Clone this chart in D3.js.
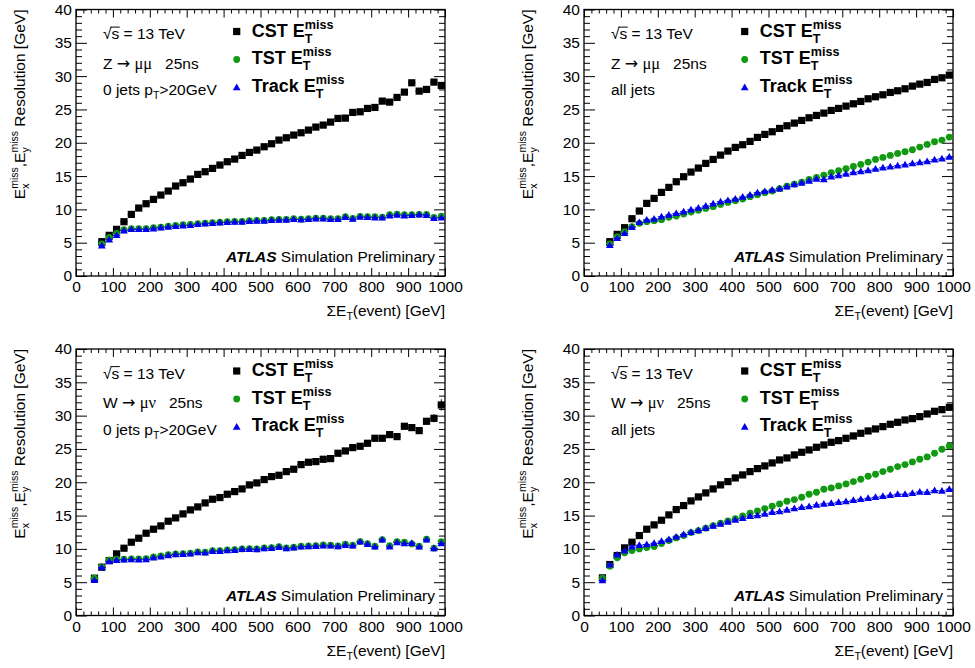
<!DOCTYPE html>
<html>
<head>
<meta charset="utf-8">
<script src="https://cdn.jsdelivr.net/npm/d3@7"></script>
<style>
  body { margin: 0; background: #fff; }
  text { font-family: "Liberation Sans", Arial, Helvetica, sans-serif; white-space: pre; fill: #000; }
</style>
</head>
<body>
<div id="chart"></div>
<script>
// bin centres, Z -> mumu (top row) and W -> munu (bottom row)
var binsZ = [70, 90, 110, 130, 150, 170, 190, 210, 230, 250, 270, 290, 310, 330, 350, 370, 390, 410, 430, 450,
  470, 490, 510, 530, 550, 570, 590, 610, 630, 650, 670, 690, 710, 730, 750, 770, 790, 810, 830, 850,
  870, 890, 910, 930, 950, 970, 990];
var binsW = [50, 70, 90, 110, 130, 150, 170, 190, 210, 230, 250, 270, 290, 310, 330, 350, 370, 390, 410, 430,
  450, 470, 490, 510, 530, 550, 570, 590, 610, 630, 650, 670, 690, 710, 730, 750, 770, 790, 810, 830,
  850, 870, 890, 910, 930, 950, 970, 990];

// Z -> mumu, 0 jets
var cstZ0 = [5.15, 6.1, 7.0, 8.15, 9.25, 10.2, 10.85, 11.5, 12.15, 12.75, 13.5, 14.0, 14.55, 15.25, 15.65, 16.15,
  16.65, 17.15, 17.55, 18.1, 18.55, 18.9, 19.4, 19.85, 20.4, 20.75, 21.15, 21.5, 21.9, 22.35, 22.65, 23.1,
  23.65, 23.7, 24.55, 24.65, 25.15, 25.3, 26.25, 26.1, 26.8, 27.6, 29.0, 27.75, 28.0, 29.1, 28.6];
var cstErrZ0 = [0.05, 0.05, 0.05, 0.05, 0.05, 0.05, 0.05, 0.05, 0.05, 0.05, 0.05, 0.05, 0.05, 0.05, 0.05, 0.05,
  0.05, 0.05, 0.05, 0.05, 0.05, 0.05, 0.1, 0.1, 0.1, 0.1, 0.1, 0.1, 0.1, 0.1, 0.1, 0.15,
  0.15, 0.15, 0.15, 0.15, 0.15, 0.2, 0.2, 0.2, 0.2, 0.25, 0.3, 0.3, 0.3, 0.4, 0.45];
var tstZ0 = [4.8, 5.8, 6.4, 6.95, 7.1, 7.1, 7.1, 7.25, 7.35, 7.5, 7.6, 7.7, 7.75, 7.85, 7.95, 8.0,
  8.1, 8.15, 8.2, 8.2, 8.3, 8.35, 8.35, 8.45, 8.5, 8.5, 8.6, 8.55, 8.6, 8.7, 8.7, 8.6,
  8.6, 8.9, 8.65, 8.95, 8.9, 8.9, 8.85, 9.2, 9.3, 9.2, 9.2, 9.25, 9.25, 8.8, 9.0];
var trkZ0 = [4.55, 5.45, 6.1, 6.8, 7.0, 7.0, 7.0, 7.1, 7.25, 7.35, 7.45, 7.55, 7.6, 7.75, 7.85, 7.9,
  8.0, 8.05, 8.1, 8.1, 8.2, 8.25, 8.25, 8.35, 8.4, 8.4, 8.5, 8.45, 8.5, 8.6, 8.6, 8.5,
  8.5, 8.8, 8.55, 8.85, 8.8, 8.75, 8.75, 9.05, 9.15, 9.05, 9.1, 9.2, 9.1, 8.65, 8.75];

// Z -> mumu, all jets
var cstZa = [5.15, 6.25, 7.25, 8.6, 9.75, 10.9, 11.65, 12.55, 13.3, 14.15, 14.9, 15.6, 16.2, 16.9, 17.5, 18.15,
  18.75, 19.3, 19.7, 20.2, 20.8, 21.25, 21.65, 22.15, 22.55, 22.95, 23.35, 23.75, 24.1, 24.45, 24.85, 25.15,
  25.5, 25.85, 26.2, 26.6, 26.9, 27.2, 27.55, 27.8, 28.1, 28.5, 28.8, 29.05, 29.5, 29.75, 30.15];
var tstZa = [4.8, 5.9, 6.65, 7.4, 7.9, 8.15, 8.3, 8.45, 8.8, 9.0, 9.3, 9.6, 9.85, 10.15, 10.4, 10.75,
  11.05, 11.3, 11.55, 11.9, 12.2, 12.5, 12.75, 13.1, 13.5, 13.8, 14.1, 14.5, 14.8, 15.15, 15.5, 15.8,
  16.1, 16.45, 16.75, 17.1, 17.5, 17.8, 18.1, 18.4, 18.65, 18.95, 19.35, 19.75, 20.15, 20.4, 20.85];
var trkZa = [4.6, 5.65, 6.4, 7.3, 8.05, 8.4, 8.55, 8.9, 9.15, 9.4, 9.65, 9.95, 10.2, 10.5, 10.85, 11.15,
  11.35, 11.55, 11.85, 12.15, 12.5, 12.7, 12.9, 13.1, 13.4, 13.75, 13.95, 14.25, 14.55, 14.5, 14.9, 15.1,
  15.3, 15.55, 15.7, 15.85, 16.05, 16.25, 16.4, 16.55, 16.7, 16.9, 17.05, 17.2, 17.45, 17.6, 17.85];

// W -> munu, 0 jets
var cstW0 = [5.6, 7.25, 8.25, 9.25, 10.1, 11.0, 11.6, 12.35, 12.95, 13.45, 14.15, 14.65, 15.25, 15.85, 16.3, 16.9,
  17.45, 17.7, 18.2, 18.6, 19.0, 19.6, 19.9, 20.4, 20.85, 21.05, 21.6, 21.95, 22.65, 23.0, 23.1, 23.45,
  23.55, 24.35, 24.7, 25.2, 25.4, 25.85, 26.6, 26.6, 27.15, 26.85, 28.4, 28.2, 27.75, 29.15, 29.6, 31.6];
var cstErrW0 = [0.05, 0.05, 0.05, 0.05, 0.05, 0.05, 0.05, 0.05, 0.05, 0.05, 0.05, 0.05, 0.05, 0.05, 0.05, 0.1,
  0.1, 0.1, 0.1, 0.1, 0.1, 0.1, 0.1, 0.1, 0.15, 0.15, 0.15, 0.15, 0.15, 0.2, 0.2, 0.2,
  0.2, 0.2, 0.25, 0.25, 0.25, 0.3, 0.3, 0.3, 0.35, 0.35, 0.45, 0.4, 0.45, 0.5, 0.6, 0.85];
var tstW0 = [5.6, 7.3, 8.3, 8.45, 8.45, 8.5, 8.5, 8.55, 8.8, 8.95, 9.15, 9.25, 9.3, 9.35, 9.55, 9.5,
  9.75, 9.75, 9.85, 9.9, 10.0, 10.05, 10.0, 10.15, 10.2, 10.35, 10.15, 10.25, 10.4, 10.45, 10.5, 10.6,
  10.55, 10.45, 10.7, 10.55, 11.1, 10.8, 10.4, 11.4, 10.5, 11.1, 11.0, 10.75, 10.4, 11.45, 10.1, 11.1];
var trkW0 = [5.3, 7.2, 8.1, 8.3, 8.35, 8.4, 8.35, 8.4, 8.65, 8.8, 9.0, 9.15, 9.2, 9.25, 9.45, 9.4,
  9.65, 9.65, 9.75, 9.8, 9.95, 9.95, 9.9, 10.05, 10.1, 10.25, 10.05, 10.15, 10.3, 10.35, 10.4, 10.45,
  10.45, 10.35, 10.55, 10.45, 11.05, 10.7, 10.3, 11.35, 10.3, 10.95, 10.8, 10.85, 10.3, 11.35, 10.05, 10.8];

// W -> munu, all jets
var cstWa = [5.65, 7.65, 9.0, 10.15, 11.0, 12.0, 12.95, 13.6, 14.3, 15.1, 15.9, 16.5, 17.2, 17.8, 18.4, 19.0,
  19.6, 20.1, 20.65, 21.1, 21.6, 22.05, 22.45, 22.9, 23.35, 23.65, 24.1, 24.5, 24.85, 25.25, 25.6, 26.0,
  26.25, 26.6, 26.95, 27.35, 27.7, 28.0, 28.35, 28.7, 29.0, 29.35, 29.55, 29.85, 30.25, 30.65, 30.9, 31.25];
var tstWa = [5.6, 7.4, 8.65, 9.4, 9.75, 10.0, 10.2, 10.35, 10.8, 11.25, 11.65, 12.0, 12.45, 12.75, 13.1, 13.5,
  13.85, 14.2, 14.55, 14.95, 15.35, 15.7, 16.05, 16.4, 16.75, 17.15, 17.4, 17.75, 18.2, 18.5, 18.95, 19.15,
  19.45, 19.75, 20.1, 20.45, 20.9, 21.2, 21.6, 21.95, 22.35, 22.65, 23.05, 23.45, 23.8, 24.35, 24.95, 25.45];
var trkWa = [5.25, 7.6, 9.1, 9.7, 10.3, 10.55, 10.65, 10.85, 11.15, 11.4, 11.8, 12.15, 12.5, 12.75, 13.1, 13.45,
  13.75, 14.05, 14.35, 14.6, 14.9, 15.0, 15.25, 15.5, 15.6, 15.85, 16.05, 16.25, 16.35, 16.6, 16.75, 16.85,
  17.0, 17.1, 17.3, 17.45, 17.6, 17.75, 17.9, 18.05, 18.2, 18.2, 18.35, 18.55, 18.5, 18.75, 18.7, 18.95];

var xTicks = [0, 100, 200, 300, 400, 500, 600, 700, 800, 900, 1000];
var yTicks = [0, 5, 10, 15, 20, 25, 30, 35, 40];
var seriesNames = ["CST", "TST", "Track"];

var W = 975, H = 668;
var pw = 369, ph = 266.5;
var binHalf = 10;
var fontSize = 15.5;

var svg = d3.select("#chart").append("svg")
  .attr("width", W)
  .attr("height", H);

// write a run of text pieces (with sub/superscripts) into a group, returns width
function rich(parent, pieces) {
  var g = parent.append("g");
  var x = 0, lastStart = 0;
  pieces.forEach(function(p) {
    var start = p.stack ? lastStart : x;
    var t = g.append("text")
      .attr("x", start)
      .attr("y", p.dy || 0)
      .attr("font-size", p.size || fontSize)
      .attr("font-weight", p.bold ? "bold" : null)
      .attr("font-style", p.italic ? "italic" : null)
      .text(p.t);
    if (p.family) t.style("font-family", p.family);
    var w = t.node().getComputedTextLength();
    if (p.over) {
      g.append("line")
        .attr("x1", start - 1).attr("x2", start + w + 0.5)
        .attr("y1", -(p.size || fontSize) * 0.78).attr("y2", -(p.size || fontSize) * 0.78)
        .attr("stroke", "#000").attr("stroke-width", 1);
    }
    x = p.stack ? Math.max(x, start + w) : start + w;
    lastStart = start;
  });
  return { g: g, width: x };
}

var panels = [
  { left: 76, top: 9.5, bins: binsZ, cst: cstZ0, cstErr: cstErrZ0, tst: tstZ0, trk: trkZ0, proc: "Z", jets: "0" },
  { left: 584, top: 9.5, bins: binsZ, cst: cstZa, cstErr: null, tst: tstZa, trk: trkZa, proc: "Z", jets: "all" },
  { left: 76, top: 349, bins: binsW, cst: cstW0, cstErr: cstErrW0, tst: tstW0, trk: trkW0, proc: "W", jets: "0" },
  { left: 584, top: 349, bins: binsW, cst: cstWa, cstErr: null, tst: tstWa, trk: trkWa, proc: "W", jets: "all" }
];

var colors = { CST: "#000000", TST: "#119911", Track: "#0000ee" };
var serif = '"Liberation Serif", "DejaVu Serif", serif';

panels.forEach(drawPanel);

function drawPanel(p) {
  var g = svg.append("g").attr("transform", "translate(" + p.left + "," + p.top + ")");

  var x = d3.scaleLinear().domain([0, 1000]).range([0, pw]);
  var y = d3.scaleLinear().domain([0, 40]).range([ph, 0]);

  var xMinor = d3.range(0, 1001, 20).filter(function(v) { return v % 100 !== 0; });
  var yMinor = d3.range(0, 41, 1).filter(function(v) { return v % 5 !== 0; });

  // axes, ticks pointing inside the frame on all four sides
  g.append("g").attr("class", "x axis")
    .attr("transform", "translate(0," + ph + ")")
    .call(d3.axisBottom(x).tickValues(xTicks).tickSize(-8).tickSizeOuter(0).tickPadding(5).tickFormat(d3.format("d")));
  g.append("g").attr("transform", "translate(0," + ph + ")")
    .call(d3.axisBottom(x).tickValues(xMinor).tickSize(-4).tickFormat(""));
  g.append("g")
    .call(d3.axisTop(x).tickValues(xTicks).tickSize(-8).tickFormat(""));
  g.append("g")
    .call(d3.axisTop(x).tickValues(xMinor).tickSize(-4).tickFormat(""));

  g.append("g").attr("class", "y axis")
    .call(d3.axisLeft(y).tickValues(yTicks).tickSize(-11).tickSizeOuter(0).tickPadding(4).tickFormat(d3.format("d")));
  g.append("g")
    .call(d3.axisLeft(y).tickValues(yMinor).tickSize(-6).tickFormat(""));
  g.append("g").attr("transform", "translate(" + pw + ",0)")
    .call(d3.axisRight(y).tickValues(yTicks).tickSize(-11).tickFormat(""));
  g.append("g").attr("transform", "translate(" + pw + ",0)")
    .call(d3.axisRight(y).tickValues(yMinor).tickSize(-6).tickFormat(""));

  g.selectAll(".domain").remove();
  g.selectAll(".tick line").attr("stroke", "#000").attr("stroke-width", 1);
  g.selectAll(".tick text")
    .attr("font-size", fontSize)
    .style("font-family", '"Liberation Sans", Arial, sans-serif')
    .attr("fill", "#000");

  g.append("rect")
    .attr("width", pw).attr("height", ph)
    .attr("fill", "none").attr("stroke", "#000").attr("stroke-width", 1.3);

  // axis titles
  var xt = rich(g, [
    { t: "\u03A3E" },
    { t: "T", size: 10.5, dy: 4 },
    { t: "(event) [GeV]" }
  ]);
  xt.g.attr("transform", "translate(" + (pw - xt.width) + "," + (ph + 40) + ")");

  var yt = rich(g, [
    { t: "E" },
    { t: "x", size: 10.5, dy: 4 },
    { t: "miss", size: 10.5, dy: -7, stack: true },
    { t: ",E" },
    { t: "y", size: 10.5, dy: 4 },
    { t: "miss", size: 10.5, dy: -7, stack: true },
    { t: " Resolution [GeV]" }
  ]);
  yt.g.attr("transform", "translate(-51," + yt.width + ") rotate(-90)");

  // data: CST, TST, Track
  var sets = [
    { name: "CST", vals: p.cst, err: p.cstErr },
    { name: "TST", vals: p.tst, err: null },
    { name: "Track", vals: p.trk, err: null }
  ];

  sets.forEach(function(s) {
    var pts = p.bins.map(function(b, i) { return { x: b, v: s.vals[i], e: s.err ? s.err[i] : 0 }; });
    var sg = g.append("g").attr("fill", colors[s.name]).attr("stroke", colors[s.name]);

    sg.selectAll("line.xerr").data(pts).enter().append("line")
      .attr("class", "xerr")
      .attr("x1", function(d) { return x(d.x - binHalf); })
      .attr("x2", function(d) { return x(d.x + binHalf); })
      .attr("y1", function(d) { return y(d.v); })
      .attr("y2", function(d) { return y(d.v); })
      .attr("stroke-width", 1);

    sg.selectAll("line.yerr").data(pts.filter(function(d) { return d.e > 0; })).enter().append("line")
      .attr("class", "yerr")
      .attr("x1", function(d) { return x(d.x); })
      .attr("x2", function(d) { return x(d.x); })
      .attr("y1", function(d) { return y(d.v - d.e); })
      .attr("y2", function(d) { return y(d.v + d.e); })
      .attr("stroke-width", 1);

    drawMarkers(sg, s.name, pts, x, y);
  });

  // legend
  var lx = 160.7, tx = 175.7;
  seriesNames.forEach(function(name, i) {
    var my = 22 + i * 28;
    var lg = g.append("g").attr("fill", colors[name]);
    drawMarkers(lg, name, [{ x: 0, v: 0 }], function() { return lx; }, function() { return my; });
    var lt = rich(g, [
      { t: name + " E", bold: true, size: 18 },
      { t: "T", bold: true, size: 12.6, dy: 6 },
      { t: "miss", bold: true, size: 12.6, dy: -8, stack: true }
    ]);
    lt.g.attr("transform", "translate(" + tx + "," + (27 + i * 27.7) + ")");
  });

  // labels
  var l1 = rich(g, [
    { t: "\u221A" },
    { t: "s", over: true },
    { t: " = 13 TeV" }
  ]);
  l1.g.attr("transform", "translate(27,29.7)");

  var procPieces = [
    { t: p.proc + " " },
    { t: "\u2192", family: '"DejaVu Sans", sans-serif', size: 16 },
    { t: " " },
    { t: p.proc === "Z" ? "\u03BC\u03BC" : "\u03BC\u03BD", family: serif, size: 16.5 },
    { t: "   25ns" }
  ];
  var l2 = rich(g, procPieces);
  l2.g.attr("transform", "translate(27,59)");

  var jetPieces = p.jets === "0"
    ? [{ t: "0 jets p" }, { t: "T", size: 10.5, dy: 4 }, { t: ">20GeV" }]
    : [{ t: "all jets" }];
  var l3 = rich(g, jetPieces);
  l3.g.attr("transform", "translate(27,85.7)");

  var at = rich(g, [
    { t: "ATLAS", bold: true, italic: true },
    { t: " Simulation Preliminary" }
  ]);
  at.g.attr("transform", "translate(" + (pw - 10 - at.width) + "," + (ph - 14.5) + ")");
}

function drawMarkers(sel, name, pts, x, y) {
  var c = colors[name];
  if (name === "CST") {
    sel.selectAll("rect.m").data(pts).enter().append("rect")
      .attr("class", "m")
      .attr("x", function(d) { return x(d.x) - 3.6; })
      .attr("y", function(d) { return y(d.v) - 3.6; })
      .attr("width", 7.2).attr("height", 7.2)
      .attr("fill", c).attr("stroke", "none");
  } else if (name === "TST") {
    sel.selectAll("circle.m").data(pts).enter().append("circle")
      .attr("class", "m")
      .attr("cx", function(d) { return x(d.x); })
      .attr("cy", function(d) { return y(d.v); })
      .attr("r", 3.4)
      .attr("fill", c).attr("stroke", "none");
  } else {
    sel.selectAll("path.m").data(pts).enter().append("path")
      .attr("class", "m")
      .attr("d", d3.symbol().type(d3.symbolTriangle).size(26))
      .attr("transform", function(d) { return "translate(" + x(d.x) + "," + (y(d.v) + 0.5) + ")"; })
      .attr("fill", c).attr("stroke", "none");
  }
}
</script>
</body>
</html>
